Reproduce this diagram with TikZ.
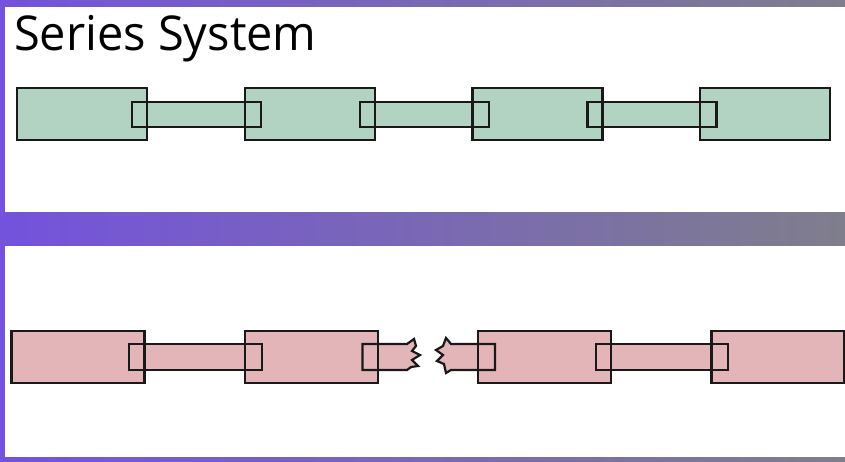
\documentclass[tikz,border=0pt]{standalone}
\usepackage{fontspec}
\newfontfamily\titlefont{Open Sans}
\definecolor{grn}{RGB}{178,211,194}
\definecolor{pnk}{RGB}{228,181,184}
\definecolor{purp}{RGB}{116,82,221}
\definecolor{gry}{RGB}{127,126,140}
\definecolor{edge}{RGB}{25,25,25}
\begin{document}
\begin{tikzpicture}[x=1pt,y=-1pt,
  blk/.style={rectangle, inner sep=0pt, outer sep=0pt, draw=none},
  outl/.style={draw=edge, line width=2.2pt, line join=miter},
  band/.style={left color=purp, right color=gry}]
\useasboundingbox (0,0) rectangle (845,461);
\fill[white] (0,0) rectangle (845,461);
% bands
\shade[band] (0,0) rectangle (845,6);
\shade[band] (0,212) rectangle (845,245);
\shade[band] (0,457) rectangle (845,461);
\fill[purp] (0,0) rectangle (5,461);
% title
\node[anchor=base west, inner sep=0pt, font=\titlefont\fontsize{48}{50}\selectfont] (title) at (14,50) {\scalebox{0.978}[1]{Series System}};
% top chain (working)
\foreach \i in {0,1,2,3} {
  \node[blk, fill=grn, minimum width=130pt, minimum height=52pt] (t\i) at (82+227.7*\i,114) {};
}
\foreach \i in {0,1,2} {
  \node[blk, fill=grn, minimum width=129pt, minimum height=25pt] (tl\i) at (196.5+227.7*\i,114.5) {};
}
\foreach \n in {t0,t1,t2,t3,tl0,tl1,tl2} {
  \draw[outl] (\n.north west) rectangle (\n.south east);
}
% bottom chain (broken)
\foreach \i in {0,1,2,3} {
  \node[blk, fill=pnk, minimum width=133pt, minimum height=52.6pt] (b\i) at (78+233.3*\i,357) {};
}
\node[blk, fill=pnk, minimum width=132.4pt, minimum height=26pt] (bl0) at (195.5,357) {};
\node[blk, fill=pnk, minimum width=132.4pt, minimum height=26pt] (bl2) at (195.5+466.6,357) {};
\coordinate (brkL) at (362.5,344);
\coordinate (brkR) at (495,344);
\filldraw[fill=pnk, outl] (brkL) -- (407,344) -- (414,339) -- (416,346) -- (412,351) -- (420,355) -- (412,360) -- (418,366) -- (411,367) -- (407,370) -- (362.5,370) -- cycle;
\filldraw[fill=pnk, outl] (brkR) -- (451,344) -- (446,338) -- (443,346) -- (436,350) -- (443,355) -- (437,361) -- (444,364) -- (446,373) -- (451,370) -- (495,370) -- cycle;
\foreach \n in {b0,b1,b2,b3,bl0,bl2} {
  \draw[outl] (\n.north west) rectangle (\n.south east);
}
\end{tikzpicture}
\end{document}
